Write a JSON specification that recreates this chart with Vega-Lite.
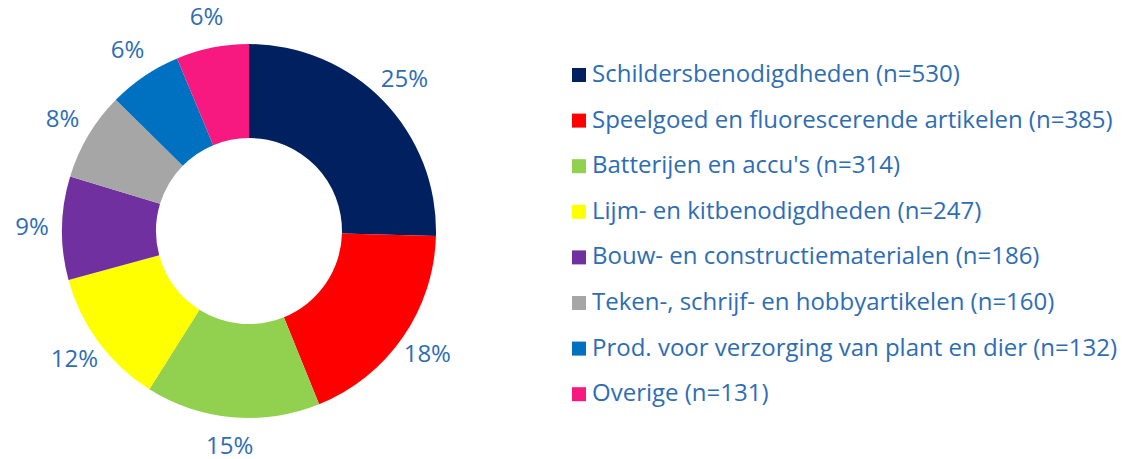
{
  "$schema": "https://vega.github.io/schema/vega-lite/v6.json",
  "width": 498,
  "height": 456,
  "padding": {"left": 0, "top": 3, "right": 0, "bottom": 0},
  "autosize": {"type": "pad"},
  "background": "white",
  "view": {"stroke": null},
  "data": {
    "values": [
      {"cat": "Schildersbenodigdheden (n=530)", "n": 530, "pct": "25%", "ord": 1},
      {"cat": "Speelgoed en fluorescerende artikelen (n=385)", "n": 385, "pct": "18%", "ord": 2},
      {"cat": "Batterijen en accu's (n=314)", "n": 314, "pct": "15%", "ord": 3},
      {"cat": "Lijm- en kitbenodigdheden (n=247)", "n": 247, "pct": "12%", "ord": 4},
      {"cat": "Bouw- en constructiematerialen (n=186)", "n": 186, "pct": "9%", "ord": 5},
      {"cat": "Teken-, schrijf- en hobbyartikelen (n=160)", "n": 160, "pct": "8%", "ord": 6},
      {"cat": "Prod. voor verzorging van plant en dier (n=132)", "n": 132, "pct": "6%", "ord": 7},
      {"cat": "Overige (n=131)", "n": 131, "pct": "6%", "ord": 8}
    ]
  },
  "encoding": {
    "theta": {"field": "n", "type": "quantitative", "stack": true},
    "order": {"field": "ord", "type": "quantitative"}
  },
  "layer": [
    {
      "mark": {"type": "arc", "innerRadius": 93, "outerRadius": 187},
      "encoding": {
        "color": {
          "field": "cat",
          "type": "nominal",
          "sort": null,
          "scale": {
            "domain": [
              "Schildersbenodigdheden (n=530)",
              "Speelgoed en fluorescerende artikelen (n=385)",
              "Batterijen en accu's (n=314)",
              "Lijm- en kitbenodigdheden (n=247)",
              "Bouw- en constructiematerialen (n=186)",
              "Teken-, schrijf- en hobbyartikelen (n=160)",
              "Prod. voor verzorging van plant en dier (n=132)",
              "Overige (n=131)"
            ],
            "range": ["#002060", "#FF0000", "#92D050", "#FFFF00", "#7030A0", "#A6A6A6", "#0070C0", "#F7197F"]
          },
          "legend": {
            "title": null,
            "orient": "none",
            "legendX": 567,
            "legendY": 60,
            "padding": 0,
            "symbolType": "square",
            "symbolSize": 196,
            "symbolStrokeWidth": 0,
            "labelFont": "Open Sans",
            "labelFontSize": 24,
            "labelColor": "#2E6DB4",
            "labelOffset": 1,
            "rowPadding": 21.6,
            "labelLimit": 600
          }
        }
      }
    },
    {
      "mark": {"type": "text", "radius": 217, "font": "Open Sans", "fontSize": 24, "color": "#2E6DB4"},
      "encoding": {
        "text": {"field": "pct", "type": "nominal"}
      }
    }
  ]
}
